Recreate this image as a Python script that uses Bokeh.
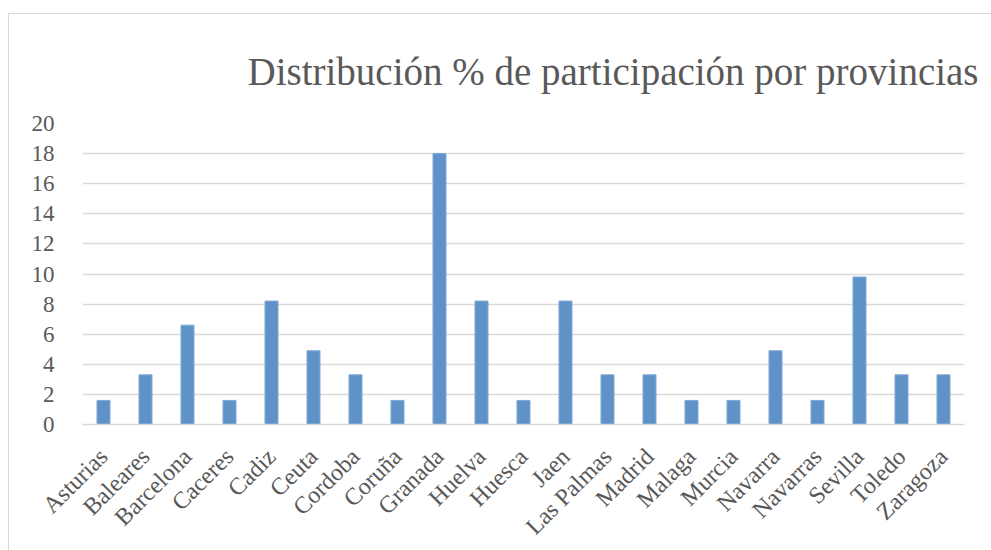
import math
from bokeh.plotting import figure
from bokeh.models import FactorRange, Range1d, FixedTicker
from bokeh.embed import file_html
from bokeh.resources import INLINE

provincias = ["Asturias", "Baleares", "Barcelona", "Caceres", "Cadiz", "Ceuta",
              "Cordoba", "Coruña", "Granada", "Huelva", "Huesca", "Jaen",
              "Las Palmas", "Madrid", "Malaga", "Murcia", "Navarra", "Navarras",
              "Sevilla", "Toledo", "Zaragoza"]
porcentajes = [1.6, 3.3, 6.6, 1.6, 8.2, 4.9,
               3.3, 1.6, 18.0, 8.2, 1.6, 8.2,
               3.3, 3.3, 1.6, 1.6, 4.9, 1.6,
               9.8, 3.3, 3.3]
y_ticks = [0, 2, 4, 6, 8, 10, 12, 14, 16, 18, 20]
titulo = "Distribución % de participación por provincias"

TEXT = "#595959"
GRID = "#D9D9D9"
FONT = "Liberation Serif"

p = figure(width=983, height=537,
           x_range=FactorRange(*provincias, range_padding=0),
           y_range=Range1d(0, 20),
           output_backend="svg", toolbar_location=None,
           min_border_left=73, min_border_right=28,
           min_border_top=109, min_border_bottom=126,
           title=titulo)
p.margin = (13, 0, 0, 8)
p.styles = {"border-left": "1px solid #D9D9D9", "border-top": "1px solid #D9D9D9"}
p.background_fill_color = "white"
p.border_fill_color = "white"
p.outline_line_color = None

p.title.align = "left"
p.title.offset = 165
p.title.standoff = 62
p.title.text_font = FONT
p.title.text_font_size = "39px"
p.title.text_font_style = "normal"
p.title.text_color = TEXT

p.vbar(x=provincias, top=porcentajes, width=0.31,
       fill_color="#5F92C8", line_color="#7FA8D6", line_width=1)

p.xgrid.grid_line_color = None
p.ygrid.grid_line_color = GRID
p.ygrid.grid_line_width = 1.5
p.yaxis.ticker = FixedTicker(ticks=y_ticks)

p.yaxis.axis_line_color = None
p.yaxis.major_tick_line_color = None
p.yaxis.minor_tick_line_color = None
p.yaxis.major_label_standoff = 22
p.yaxis.major_label_text_font = FONT
p.yaxis.major_label_text_font_size = "23px"
p.yaxis.major_label_text_color = TEXT

p.xaxis.axis_line_color = GRID
p.xaxis.axis_line_width = 1.5
p.xaxis.major_tick_line_color = None
p.xaxis.minor_tick_line_color = None
p.xaxis.major_label_orientation = math.pi / 4
p.xaxis.major_label_standoff = 22
p.xaxis.major_label_text_font = FONT
p.xaxis.major_label_text_font_size = "24px"
p.xaxis.major_label_text_color = TEXT

open("out.html", "w").write(file_html(p, INLINE))
